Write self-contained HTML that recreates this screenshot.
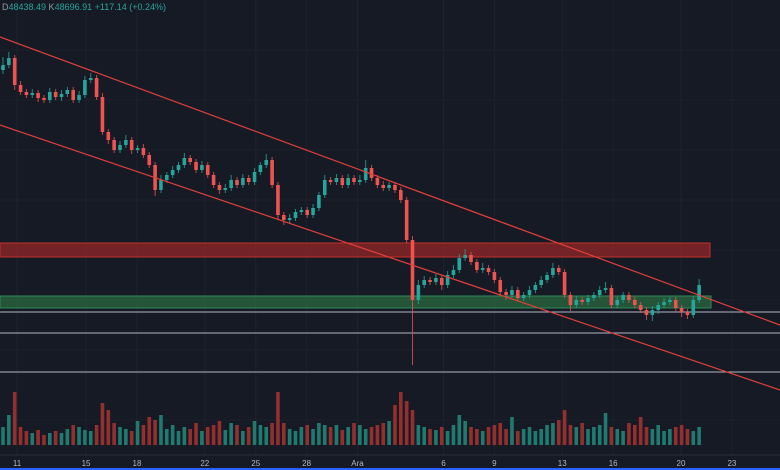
<!DOCTYPE html>
<html><head><meta charset="utf-8"><style>
html,body{margin:0;padding:0;background:#161a25;}
#wrap{position:relative;width:780px;height:470px;overflow:hidden;background:#161a25;font-family:"Liberation Sans",sans-serif;}
#legend{position:absolute;left:2px;top:2px;font-size:9px;color:#26a69a;white-space:nowrap;}
#legend b{color:#9598a1;font-weight:normal;}
</style></head><body>
<div id="wrap">
<svg id="svg" width="780" height="470"></svg>
<div id="legend"><b>D</b>48438.49 <b>K</b>48696.91 +117.14 (+0.24%)</div>
</div>
<script>
const dayLabels=["11","15","18","22","25","28","Ara","6","9","13","16","20","23"];
const dayIndex=[2.4,14.2,22.9,34.5,43.2,51.9,60.6,75.3,84,95.6,104.3,115.9,124.6];
const closes=[70.5,71.2,68.5,67.8,67.5,67.7,67.2,67.0,67.8,67.3,67.6,68.0,67.0,67.5,69.0,69.2,67.3,63.8,63.0,62.0,62.5,63.0,62.0,62.2,61.5,60.5,58.0,59.0,59.5,60.0,60.5,61.2,60.8,60.0,60.5,59.5,58.5,58.0,58.2,59.0,58.5,59.2,58.8,59.8,60.5,61.0,58.5,55.5,55.0,55.2,55.8,56.0,55.5,56.2,57.5,59.0,58.8,59.2,58.5,59.2,58.8,59.0,60.2,59.2,58.5,58.2,58.5,58.0,57.0,53.0,47.0,48.5,49.0,48.8,49.2,48.5,49.5,50.0,51.2,51.5,50.8,50.0,50.2,49.8,49.0,47.8,47.5,48.0,47.2,47.5,48.0,48.5,49.0,49.5,50.2,49.8,47.5,46.5,47.0,46.8,47.2,47.5,48.0,48.2,46.5,47.0,47.5,47.0,46.5,46.0,45.5,46.0,46.5,46.8,47.0,46.2,45.8,45.5,47.0,48.5];
const wickUp=[0.8,0.6,0.3,0.4,0.3,0.4,0.3,0.3,0.4,0.3,0.4,0.3,0.3,0.4,0.4,0.5,0.3,0.4,0.3,0.3,0.4,0.5,0.3,0.3,0.4,0.3,0.3,0.5,0.3,0.4,0.3,0.5,0.3,0.3,0.4,0.3,0.3,0.3,0.4,0.5,0.3,0.4,0.3,0.4,0.3,0.6,0.3,0.3,0.3,0.4,0.3,0.3,0.3,0.4,0.3,0.5,0.3,0.4,0.3,0.4,0.3,0.5,0.8,0.3,0.3,0.4,0.3,0.3,0.3,0.3,0.4,0.5,0.4,0.3,0.4,0.3,0.4,0.5,0.4,0.6,0.3,0.3,0.5,0.3,0.3,0.3,0.3,0.4,0.3,0.3,0.4,0.3,0.4,0.3,0.5,0.3,0.3,0.3,0.4,0.3,0.3,0.3,0.4,0.6,0.3,0.3,0.3,0.3,0.3,0.3,0.3,0.4,0.3,0.4,0.3,0.3,0.3,0.3,0.4,0.6];
const wickDn=[0.4,0.3,0.5,0.3,0.3,0.3,0.4,0.3,0.3,0.3,0.4,0.3,0.3,0.3,0.3,0.3,0.3,0.3,0.4,0.3,0.3,0.3,0.4,0.3,0.3,0.3,0.6,0.3,0.3,0.3,0.3,0.3,0.3,0.3,0.3,0.3,0.3,0.4,0.3,0.3,0.3,0.3,0.3,0.3,0.3,0.3,0.3,0.4,0.5,0.3,0.3,0.3,0.3,0.3,0.3,0.3,0.3,0.3,0.3,0.3,0.3,0.3,0.3,0.3,0.3,0.3,0.3,0.3,0.3,0.3,6.5,0.4,0.3,0.3,0.3,0.5,0.3,0.3,0.3,0.3,0.3,0.3,0.3,0.3,0.3,0.3,0.5,0.3,0.3,0.3,0.3,0.3,0.3,0.3,0.3,0.3,0.3,0.6,0.3,0.3,0.3,0.3,0.3,0.3,0.3,0.3,0.3,0.3,0.3,0.3,0.5,0.6,0.4,0.3,0.3,0.3,0.5,0.4,0.3,0.3];
const volumes=[18,30,53,18,14,12,15,10,12,14,12,16,20,18,15,14,20,42,35,22,18,16,14,24,20,28,25,30,16,20,14,18,16,22,14,18,20,24,15,22,20,14,18,24,20,18,22,53,22,16,14,18,20,16,22,20,18,20,15,18,22,20,16,18,20,22,24,40,53,44,35,20,18,16,15,18,14,20,30,24,18,16,14,18,20,22,16,28,14,16,18,14,16,20,22,25,35,20,18,22,16,18,20,32,18,16,14,22,20,28,18,16,20,14,16,18,20,16,14,18];
const openStart=70.0;

const NS="http://www.w3.org/2000/svg";
const svg=document.getElementById('svg');
function xOf(i){return 3+i*5.85;}
function yOf(p){return 770-p*10;}
function vY(v){return 445-v;}
function mk(tag,attrs,parent){const e=document.createElementNS(NS,tag);for(const k in attrs)e.setAttribute(k,attrs[k]);(parent||svg).appendChild(e);return e;}

const grid=mk('g',{});


for(let k=0;k<dayIndex.length;k++){mk('line',{x1:xOf(dayIndex[k]),x2:xOf(dayIndex[k]),y1:0,y2:455,stroke:'#1e222d','stroke-width':1},grid);}
[50,100,150,200,250,300,350,420].forEach(y=>mk('line',{x1:0,x2:780,y1:y,y2:y,stroke:'#1c202b','stroke-width':1},grid));

const rz=mk('rect',{x:0,y:243,width:710,height:14,fill:'rgba(178,40,40,0.6)',stroke:'#c0302c','stroke-width':1});


const gz=mk('rect',{x:0,y:296,width:711,height:12,fill:'rgba(46,125,70,0.6)',stroke:'#2e8b57','stroke-width':1});


[312,333,372].forEach((y,k)=>{const l=mk('line',{x1:0,x2:780,y1:y,y2:y,stroke:'#b2b5be','stroke-width':1});

});

const vg=mk('g',{});


for(let i=0;i<closes.length;i++){
  const o=i?closes[i-1]:openStart;const up=closes[i]>=o;
  const b=mk('rect',{x:xOf(i)-1.8,y:vY(volumes[i]),width:3.6,height:volumes[i],fill:up?'#1f7a70':'#93302e'},vg);
  
  
}
const cg=mk('g',{});


for(let i=0;i<closes.length;i++){
  const o=i?closes[i-1]:openStart,c=closes[i];const up=c>=o;const col=up?'#26a69a':'#ef5350';
  const hi=Math.max(o,c)+wickUp[i],lo=Math.min(o,c)-wickDn[i];
  const g=mk('g',{},cg);
  
  
  mk('line',{x1:xOf(i),x2:xOf(i),y1:yOf(hi),y2:yOf(lo),stroke:col,'stroke-width':1,opacity:0.8},g);
  const t=Math.min(yOf(o),yOf(c));
  mk('rect',{x:xOf(i)-1.8,y:t,width:3.6,height:Math.max(1,Math.abs(yOf(o)-yOf(c))),fill:col},g);
}
const ch1=mk('line',{x1:0,y1:37,x2:780,y2:325,stroke:'#e0403a','stroke-width':1.2});


const ch2=mk('line',{x1:0,y1:125,x2:780,y2:390,stroke:'#e0403a','stroke-width':1.2});



const ax=mk('g',{});


mk('rect',{x:0,y:455,width:780,height:15,fill:'#161a25'},ax);
mk('line',{x1:0,x2:780,y1:455,y2:455,stroke:'#2a2e39'},ax);
for(let k=0;k<dayLabels.length;k++){
  const t=mk('text',{x:xOf(dayIndex[k]),y:466,'text-anchor':'middle','font-size':8,fill:'#b2b5be','font-family':'Liberation Sans, sans-serif'},ax);
  t.textContent=dayLabels[k];
  
  
}
mk('rect',{x:0,y:468,width:780,height:2,fill:'#2962ff'},ax);
</script>
</body></html>
